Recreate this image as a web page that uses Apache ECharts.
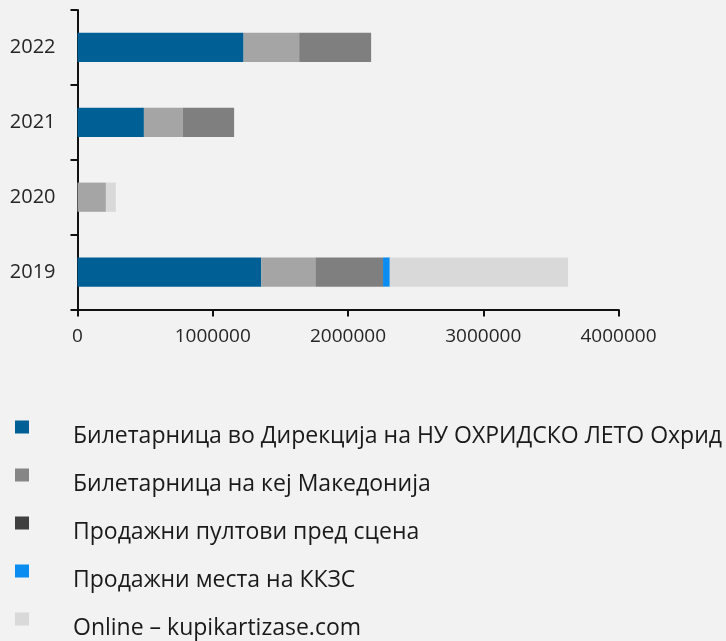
<!DOCTYPE html>
<html>
<head>
<meta charset="utf-8">
<script src="https://cdn.jsdelivr.net/npm/echarts@6/dist/echarts.min.js"></script>
<style>
html,body{margin:0;padding:0;background:#f2f2f2;}
#c{width:726px;height:641px;}
</style>
</head>
<body>
<div id="c"></div>
<script>
const years = ['2019', '2020', '2021', '2022'];
const seriesNames = [
  'Билетарница во Дирекција на НУ ОХРИДСКО ЛЕТО Охрид',
  'Билетарница на кеј Македонија',
  'Продажни пултови пред сцена',
  'Продажни места на ККЗС',
  'Online – kupikartizase.com'
];
const direkcija = [1359000, 0, 491000, 1228000];
const kej = [400000, 210000, 286000, 411000];
const pultovi = [500000, 0, 381000, 532000];
const kkzs = [50000, 0, 0, 0];
const online = [1318000, 73000, 0, 0];
const xTicks = [0, 1000000, 2000000, 3000000, 4000000];

const barColors = ['#005f94', '#a5a5a5', '#7f7f7f', '#0a8cf0', '#d9d9d9'];
const legendColors = ['#005f94', '#868686', '#404040', '#0a8cf0', '#d9d9d9'];
const values = [direkcija, kej, pultovi, kkzs, online];

const chart = echarts.init(document.getElementById('c'));
chart.setOption({
  backgroundColor: '#f2f2f2',
  animation: false,
  grid: { left: 77.5, right: 107.5, top: 10, bottom: 331.5 },
  xAxis: {
    type: 'value',
    min: xTicks[0],
    max: xTicks[xTicks.length - 1],
    interval: xTicks[1] - xTicks[0],
    splitLine: { show: false },
    axisLine: { show: true, lineStyle: { color: '#111', width: 2 } },
    axisTick: { show: true, length: 7, lineStyle: { color: '#111', width: 2 } },
    axisLabel: {
      margin: 18,
      color: '#262626',
      fontFamily: 'Open Sans',
      fontSize: 19,
      formatter: v => String(v)
    }
  },
  yAxis: {
    type: 'category',
    data: years,
    axisLine: { show: true, lineStyle: { color: '#111', width: 2 } },
    axisTick: { show: true, length: 7, lineStyle: { color: '#111', width: 2 } },
    axisLabel: {
      margin: 22,
      color: '#262626',
      fontFamily: 'Open Sans',
      fontSize: 20
    }
  },
  legend: {
    orient: 'vertical',
    left: 15,
    top: 405,
    padding: 0,
    itemWidth: 14,
    itemHeight: 13,
    itemGap: 4,
    icon: 'rect',
    selectedMode: false,
    formatter: '{t|{name}}',
    textStyle: {
      fontFamily: 'Open Sans',
      fontSize: 23,
      color: '#1a1a1a',
      lineHeight: 26,
      padding: [18, 0, 0, 39],
      rich: {
        t: {
          fontFamily: 'Open Sans',
          fontSize: 23,
          color: '#1a1a1a',
          lineHeight: 26
        }
      }
    },
    data: seriesNames.map((n, i) => ({ name: n, itemStyle: { color: legendColors[i] } }))
  },
  series: seriesNames.map((n, i) => ({
    name: n,
    type: 'bar',
    stack: 'total',
    barWidth: '39%',
    itemStyle: { color: barColors[i] },
    data: values[i]
  }))
});
</script>
</body>
</html>
